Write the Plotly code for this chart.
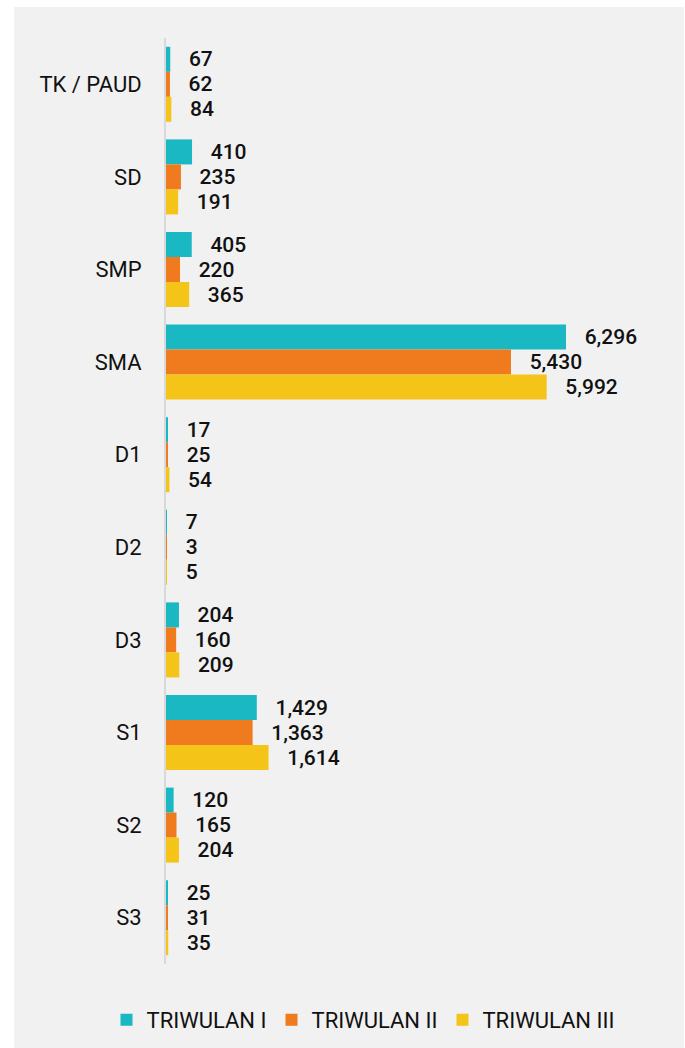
import plotly.graph_objects as go

categories = ["TK / PAUD", "SD", "SMP", "SMA", "D1", "D2", "D3", "S1", "S2", "S3"]
series_names = ["TRIWULAN I", "TRIWULAN II", "TRIWULAN III"]
triwulan_1 = [67, 410, 405, 6296, 17, 7, 204, 1429, 120, 25]
triwulan_2 = [62, 235, 220, 5430, 25, 3, 160, 1363, 165, 31]
triwulan_3 = [84, 191, 365, 5992, 54, 5, 209, 1614, 204, 35]
colors = ["#19b8c3", "#f07a1e", "#f5c418"]

FONT = "Roboto, sans-serif"

fig = go.Figure()
for name, vals, col in zip(series_names, [triwulan_1, triwulan_2, triwulan_3], colors):
    fig.add_trace(go.Bar(
        y=categories, x=vals, name=name, orientation="h",
        marker=dict(color=col, line=dict(width=0)),
        texttemplate="\u00a0\u00a0\u00a0%{x:,}", textposition="outside",
        constraintext="none",
        textfont=dict(family=FONT, size=21, color="#111111", weight=500),
        cliponaxis=False,
    ))

W, H = 685, 1048
L, R, T, B = 166, 5, 38, 84
pw, ph = W - L - R, H - T - B

def px_x(p):
    return (p - L) / pw

def px_y(p):
    return (H - B - p) / ph

fig.add_shape(type="rect", xref="paper", yref="paper",
              x0=px_x(14), x1=px_x(684), y0=px_y(1048), y1=px_y(7),
              fillcolor="#f1f1f1", line=dict(width=0), layer="below")

fig.update_layout(
    width=W, height=H,
    margin=dict(l=L, r=R, t=T, b=B, autoexpand=False),
    paper_bgcolor="white", plot_bgcolor="rgba(0,0,0,0)",
    barmode="group", bargap=0.19, bargroupgap=0,
    font=dict(family=FONT, size=22, color="#111111"),
    xaxis=dict(range=[0, 6296 * pw / 400], visible=False, showgrid=False, zeroline=False),
    yaxis=dict(autorange="reversed", showgrid=False, zeroline=False, automargin=False,
               showline=True, linecolor="#d9d9d9", linewidth=2,
               ticks="outside", ticklen=18, tickcolor="rgba(0,0,0,0)",
               tickfont=dict(family=FONT, size=22, color="#111111")),
    legend=dict(orientation="h", xref="container", yref="container",
                x=363 / W, xanchor="center",
                y=1 - 1020 / H, yanchor="middle",
                font=dict(family=FONT, size=22, color="#111111"),
                bgcolor="rgba(0,0,0,0)", traceorder="normal"),
    showlegend=True,
)

fig.write_html("out.html", config={"displayModeBar": False},
               post_script="document.body.style.margin='0';")
